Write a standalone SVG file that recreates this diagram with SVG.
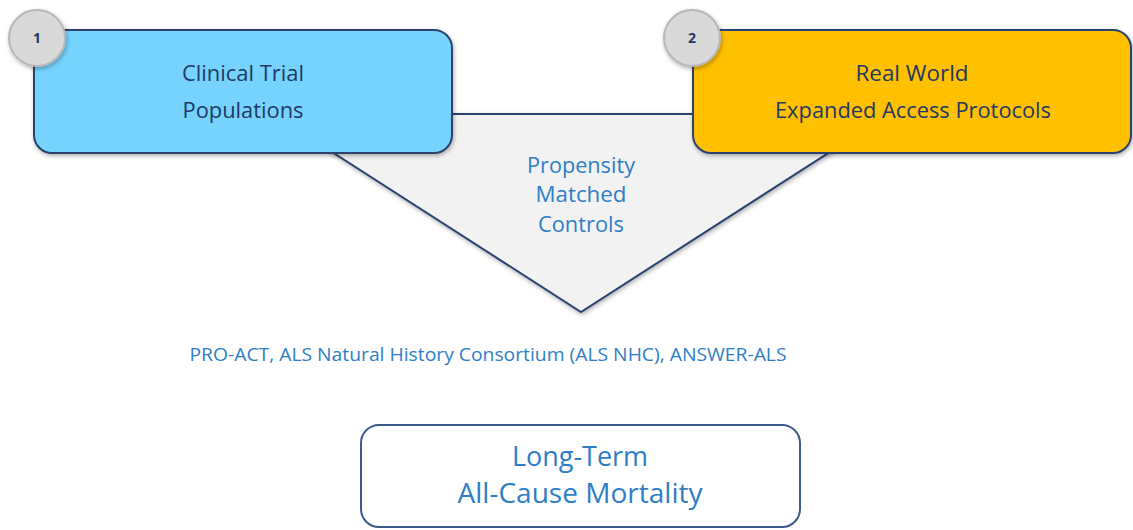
<svg xmlns="http://www.w3.org/2000/svg" width="1133" height="530" viewBox="0 0 1133 530">
<style>
.box{stroke:#2B4370;stroke-width:2}
.lbl{font-family:"Open Sans","Liberation Sans",sans-serif;text-anchor:middle}
.dark{fill:#1F3864;font-size:21.5px}
.blue{fill:#2E7EC6}
.num{font-family:"Open Sans","Liberation Sans",sans-serif;font-size:14px;font-weight:bold;fill:#1F3864;text-anchor:middle}
.badge{fill:#D9D9D9;stroke:#B8B8B8;stroke-width:2}
</style>
<defs>
<filter id="sh" x="-10%" y="-10%" width="120%" height="130%">
<feDropShadow dx="1" dy="2" stdDeviation="2" flood-color="#000" flood-opacity="0.3"/>
</filter>
</defs>
<rect width="1133" height="530" fill="#FFFFFF"/>
<g id="connectors">
<polygon points="273,114 889,114 581,312" fill="#F2F2F2" stroke="#2B4370" stroke-width="2" filter="url(#sh)"/>
</g>
<g id="node-matched">
<text class="lbl blue" font-size="21.5" x="581" y="173" textLength="108" lengthAdjust="spacingAndGlyphs">Propensity</text>
<text class="lbl blue" font-size="21.5" x="581" y="202" textLength="91" lengthAdjust="spacingAndGlyphs">Matched</text>
<text class="lbl blue" font-size="21.5" x="581" y="232" textLength="86" lengthAdjust="spacingAndGlyphs">Controls</text>
</g>
<g id="node-clinical">
<rect class="box" x="34" y="30" width="418" height="123" rx="18" fill="#75D3FE" filter="url(#sh)"/>
<text class="lbl dark" x="243" y="81" textLength="122" lengthAdjust="spacingAndGlyphs">Clinical Trial</text>
<text class="lbl dark" x="243" y="118" textLength="121" lengthAdjust="spacingAndGlyphs">Populations</text>
</g>
<g id="badge-1">
<circle class="badge" cx="37" cy="38" r="28" filter="url(#sh)"/>
<text class="num" x="37" y="43">1</text>
</g>
<g id="node-realworld">
<rect class="box" x="693" y="30" width="438" height="123" rx="18" fill="#FFC000" filter="url(#sh)"/>
<text class="lbl dark" x="912" y="81" textLength="113" lengthAdjust="spacingAndGlyphs">Real World</text>
<text class="lbl dark" x="913" y="118" textLength="276" lengthAdjust="spacingAndGlyphs">Expanded Access Protocols</text>
</g>
<g id="badge-2">
<circle class="badge" cx="692" cy="38" r="28" filter="url(#sh)"/>
<text class="num" x="692" y="43">2</text>
</g>
<g id="sources">
<text class="lbl blue" font-size="18" x="488" y="361" textLength="597" lengthAdjust="spacingAndGlyphs">PRO-ACT, ALS Natural History Consortium (ALS NHC), ANSWER-ALS</text>
</g>
<g id="node-mortality">
<rect x="361" y="425" width="439" height="102" rx="18" fill="#FFFFFF" stroke="#3B5B8C" stroke-width="2"/>
<text class="lbl blue" font-size="26.5" x="580" y="466" textLength="136" lengthAdjust="spacingAndGlyphs">Long-Term</text>
<text class="lbl blue" font-size="26.5" x="580" y="503" textLength="245" lengthAdjust="spacingAndGlyphs">All-Cause Mortality</text>
</g>
</svg>
